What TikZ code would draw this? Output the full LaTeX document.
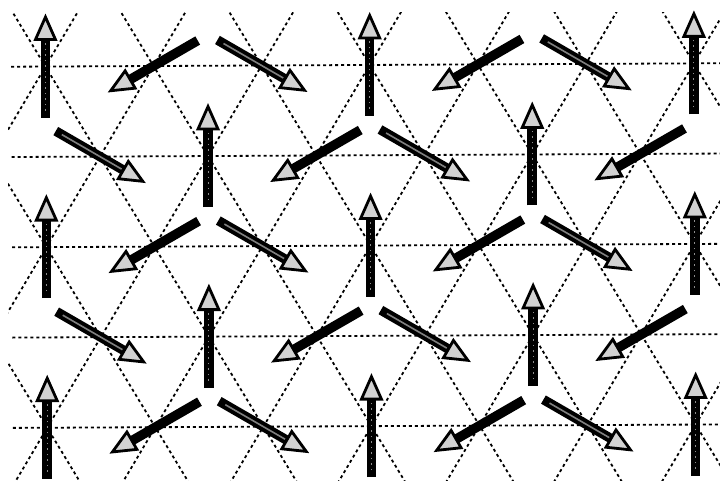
\documentclass[tikz,border=0pt]{standalone}
\begin{document}
\begin{tikzpicture}[x=1pt,y=-1pt,
  lat/.style={line width=1.8pt, dash pattern=on 3pt off 3pt, black},
  shaft/.style={line width=9.5pt, black},
  head/.style={line width=2.8pt, black, fill=gray!35, line join=miter},
  innerA/.style={line width=1pt, black!45, dash pattern=on 1.5pt off 4pt},
  innerB/.style={line width=1.6pt, black!50},
  pics/spinL/.style={code={
    \draw[shaft] (-51,0) -- (29,0);
    \draw[head] (49.5,0) -- (27,-10) -- (27,10) -- cycle;
  }},
  pics/spinU/.style={code={
    \draw[shaft] (-51,0) -- (29,0);
    \draw[innerA] (-44,0) -- (24,0);
    \draw[head] (49.5,0) -- (27,-10) -- (27,10) -- cycle;
  }},
  pics/spinR/.style={code={
    \draw[shaft] (-51,0) -- (29,0);
    \draw[innerB] (-44,0) -- (25,0);
    \draw[head] (49.5,0) -- (27,-10) -- (27,10) -- cycle;
  }}
]
\useasboundingbox (0,0) rectangle (720,480);
\fill[white] (0,0) rectangle (720,480);
\begin{scope}
  \clip (8,12) rectangle (720,480);
  \begin{scope}[rotate around={0.28:(360,240)}]
    % horizontal lattice lines
    \foreach \j in {0,...,4}{
      \draw[lat] (12,{65+90.3*\j}) -- (740,{65+90.3*\j});
    }
    % diagonal lattice lines
    \foreach \k in {-3,...,9}{
      \pgfmathsetmacro\xx{46.3+108.08*\k}
      \draw[lat] (\xx-59.44,-34.33) -- (\xx+281.0,534.56);
      \draw[lat] (\xx+59.44,-34.33) -- (\xx-281.0,534.56);
    }
  \end{scope}
\end{scope}
\begin{scope}[rotate around={0.28:(360,240)}]
  % even rows: up, down-left, down-right
  \foreach \j in {0,2,4}{
    \foreach \k in {0,3,6}{
      \pic[rotate=90] at ({46.3+108.08*\k},{65+90.3*\j}) {spinU};
    }
    \foreach \k in {1,4}{
      \pic[rotate=210] at ({46.3+108.08*\k},{65+90.3*\j}) {spinL};
    }
    \foreach \k in {2,5}{
      \pic[rotate=330] at ({46.3+108.08*\k},{65+90.3*\j}) {spinR};
    }
  }
  % odd rows: down-right, up, down-left
  \foreach \j in {1,3}{
    \foreach \k in {0,3}{
      \pic[rotate=330] at ({100.34+108.08*\k},{65+90.3*\j}) {spinR};
    }
    \foreach \k in {1,4}{
      \pic[rotate=90] at ({100.34+108.08*\k},{65+90.3*\j}) {spinU};
    }
    \foreach \k in {2,5}{
      \pic[rotate=210] at ({100.34+108.08*\k},{65+90.3*\j}) {spinL};
    }
  }
\end{scope}
\end{tikzpicture}
\end{document}
